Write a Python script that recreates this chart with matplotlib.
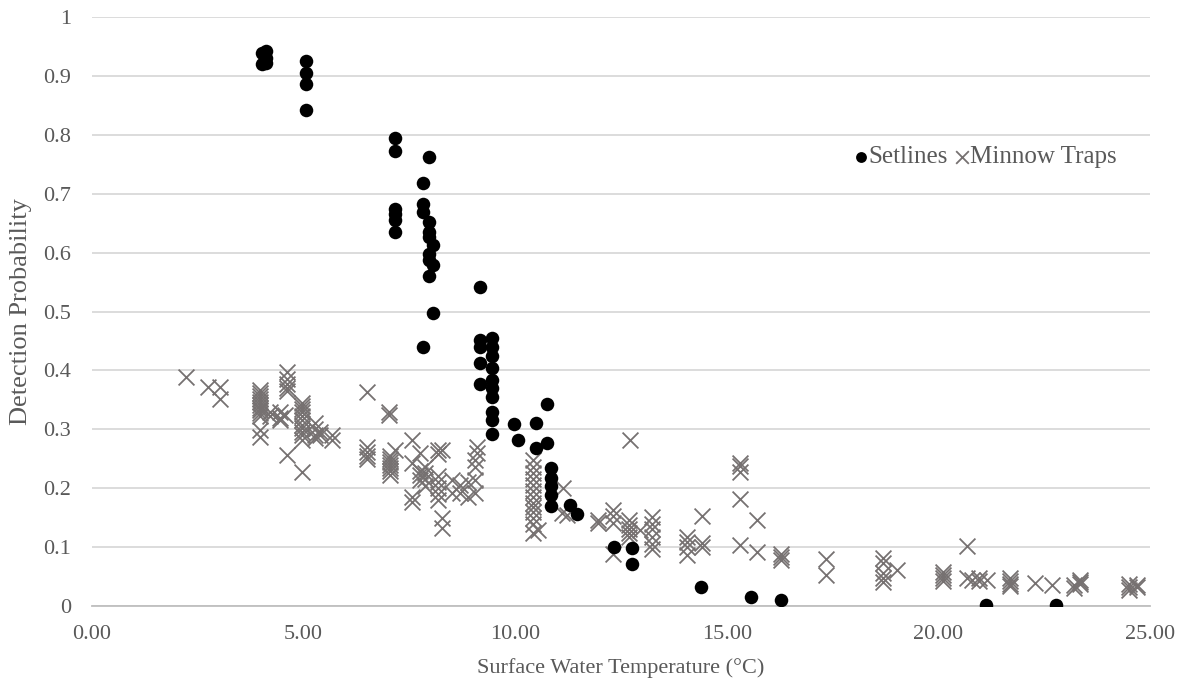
import matplotlib
matplotlib.use("Agg")
import matplotlib.pyplot as plt
from matplotlib.ticker import FuncFormatter

plt.rcParams['font.family'] = ['Liberation Serif', 'DejaVu Serif']

# setlines: temperature groups and detection probabilities
set_temps = [4.02, 4.12, 5.05, 7.16, 7.82, 7.96, 8.06, 9.17, 9.45,
             9.97, 10.07, 10.49, 10.75, 10.84, 11.30, 11.46,
             12.33, 12.76, 14.39, 15.57, 16.28, 21.12, 22.78]
set_probs = [[0.938, 0.921], [0.943, 0.930, 0.922],
             [0.925, 0.905, 0.886, 0.842],
             [0.795, 0.772, 0.674, 0.665, 0.655, 0.635],
             [0.718, 0.683, 0.669, 0.440],
             [0.762, 0.652, 0.635, 0.627, 0.598, 0.587, 0.560],
             [0.613, 0.579, 0.498],
             [0.542, 0.452, 0.440, 0.412, 0.377],
             [0.455, 0.440, 0.425, 0.404, 0.384, 0.370, 0.355, 0.330, 0.316, 0.292],
             [0.309], [0.282], [0.310, 0.268], [0.343, 0.276],
             [0.235, 0.217, 0.203, 0.188, 0.170], [0.171], [0.157],
             [0.101], [0.098, 0.071], [0.033], [0.016], [0.010], [0.001], [0.001]]

# minnow traps
trap_temps = [2.22, 2.75, 3.02, 3.97, 4.20, 4.44, 4.56, 4.60, 4.96, 5.27, 5.39, 5.67,
              6.50, 7.02, 7.05, 7.16, 7.56, 7.75, 7.88, 8.18, 8.27, 8.50, 8.70, 8.89,
              9.05, 9.10, 10.42, 10.54, 11.10, 11.13, 11.22, 11.96, 12.31, 12.69, 12.71,
              12.95, 13.23, 14.06, 14.41, 15.31, 15.71, 16.28, 17.34, 18.69, 19.02,
              20.10, 20.67, 20.80, 20.95, 21.15, 21.70, 22.28, 22.68, 23.20, 23.35,
              24.50, 24.70]
trap_probs = [[0.389], [0.372], [0.372, 0.351],
              [0.367, 0.362, 0.357, 0.352, 0.347, 0.342, 0.337, 0.332, 0.327, 0.322, 0.299, 0.287],
              [0.330, 0.322], [0.330, 0.320, 0.316], [0.325],
              [0.398, 0.385, 0.377, 0.370, 0.365, 0.256],
              [0.345, 0.340, 0.335, 0.330, 0.322, 0.315, 0.308, 0.302, 0.296, 0.290, 0.282, 0.228],
              [0.310, 0.300, 0.290, 0.285], [0.295, 0.290], [0.290, 0.282],
              [0.364, 0.270, 0.262, 0.255, 0.250], [0.330, 0.325],
              [0.255, 0.250, 0.245, 0.240, 0.235, 0.230, 0.222], [0.265],
              [0.282, 0.242, 0.185, 0.176], [0.259, 0.230, 0.222, 0.214],
              [0.236, 0.225, 0.215, 0.203],
              [0.265, 0.258, 0.220, 0.210, 0.200, 0.190, 0.180], [0.265, 0.149, 0.132],
              [0.214, 0.192], [0.205, 0.192], [0.210, 0.185],
              [0.248, 0.236, 0.214, 0.192], [0.270, 0.260],
              [0.248, 0.236, 0.225, 0.215, 0.205, 0.195, 0.185, 0.175, 0.168, 0.160, 0.150, 0.140, 0.124],
              [0.129], [0.158], [0.200], [0.155], [0.146, 0.141],
              [0.163, 0.152, 0.141, 0.088], [0.146, 0.138, 0.130, 0.124, 0.117], [0.282],
              [0.129], [0.151, 0.140, 0.130, 0.118, 0.105, 0.096],
              [0.117, 0.108, 0.100, 0.087], [0.152, 0.107, 0.100],
              [0.243, 0.237, 0.228, 0.181, 0.103], [0.146, 0.092], [0.088, 0.083, 0.078],
              [0.079, 0.053], [0.081, 0.073, 0.056, 0.048, 0.040], [0.061],
              [0.058, 0.053, 0.047, 0.042], [0.102, 0.047], [0.045], [0.047, 0.042], [0.044],
              [0.048, 0.043, 0.038, 0.034], [0.039], [0.036], [0.035, 0.030], [0.044, 0.040, 0.037],
              [0.033, 0.038, 0.028], [0.036, 0.032]]

x_ticks = [0, 5, 10, 15, 20, 25]
y_ticks = [0, 0.1, 0.2, 0.3, 0.4, 0.5, 0.6, 0.7, 0.8, 0.9, 1]

sx = [t for t, ps in zip(set_temps, set_probs) for p in ps]
sy = [p for ps in set_probs for p in ps]
tx = [t for t, ps in zip(trap_temps, trap_probs) for p in ps]
ty = [p for ps in trap_probs for p in ps]

txt = '#595959'
fig = plt.figure(figsize=(11.86, 6.9), dpi=100)
ax = fig.add_axes([0.0776, 0.1217, 0.892, 0.8537])

ax.scatter(tx, ty, marker='x', s=130, c='#767171', linewidths=1.3, label='Minnow Traps', zorder=3)
ax.scatter(sx, sy, marker='o', s=95, c='black', linewidths=0, label='Setlines', zorder=4)

ax.set_xlim(0, 25)
ax.set_ylim(0, 1)
ax.set_xticks(x_ticks)
ax.set_yticks(y_ticks)
ax.xaxis.set_major_formatter(FuncFormatter(lambda v, p: f"{v:.2f}"))
ax.yaxis.set_major_formatter(FuncFormatter(lambda v, p: f"{v:g}"))
ax.tick_params(length=0, labelsize=16, colors=txt)
ax.tick_params(axis='x', pad=14)
ax.tick_params(axis='y', pad=15)
ax.grid(axis='y', color='#d9d9d9', linewidth=1.3)
ax.set_axisbelow(True)
for s in ['top', 'right', 'left']:
    ax.spines[s].set_visible(False)
ax.spines['bottom'].set_color('#bfbfbf')
ax.spines['bottom'].set_linewidth(1.3)

ax.set_xlabel('Surface Water Temperature (°C)', fontsize=16, color=txt, labelpad=10)
ax.set_ylabel('Detection Probability', fontsize=19, color=txt, labelpad=8)

h, l = ax.get_legend_handles_labels()
leg = ax.legend(h[::-1], l[::-1], ncol=2, frameon=False, loc='center',
                bbox_to_anchor=(0.845, 0.762), fontsize=18, handletextpad=0.12,
                columnspacing=0.35, handlelength=0.4, markerscale=0.8)
for t in leg.get_texts():
    t.set_color(txt)

fig.savefig('out.png', dpi=100)
